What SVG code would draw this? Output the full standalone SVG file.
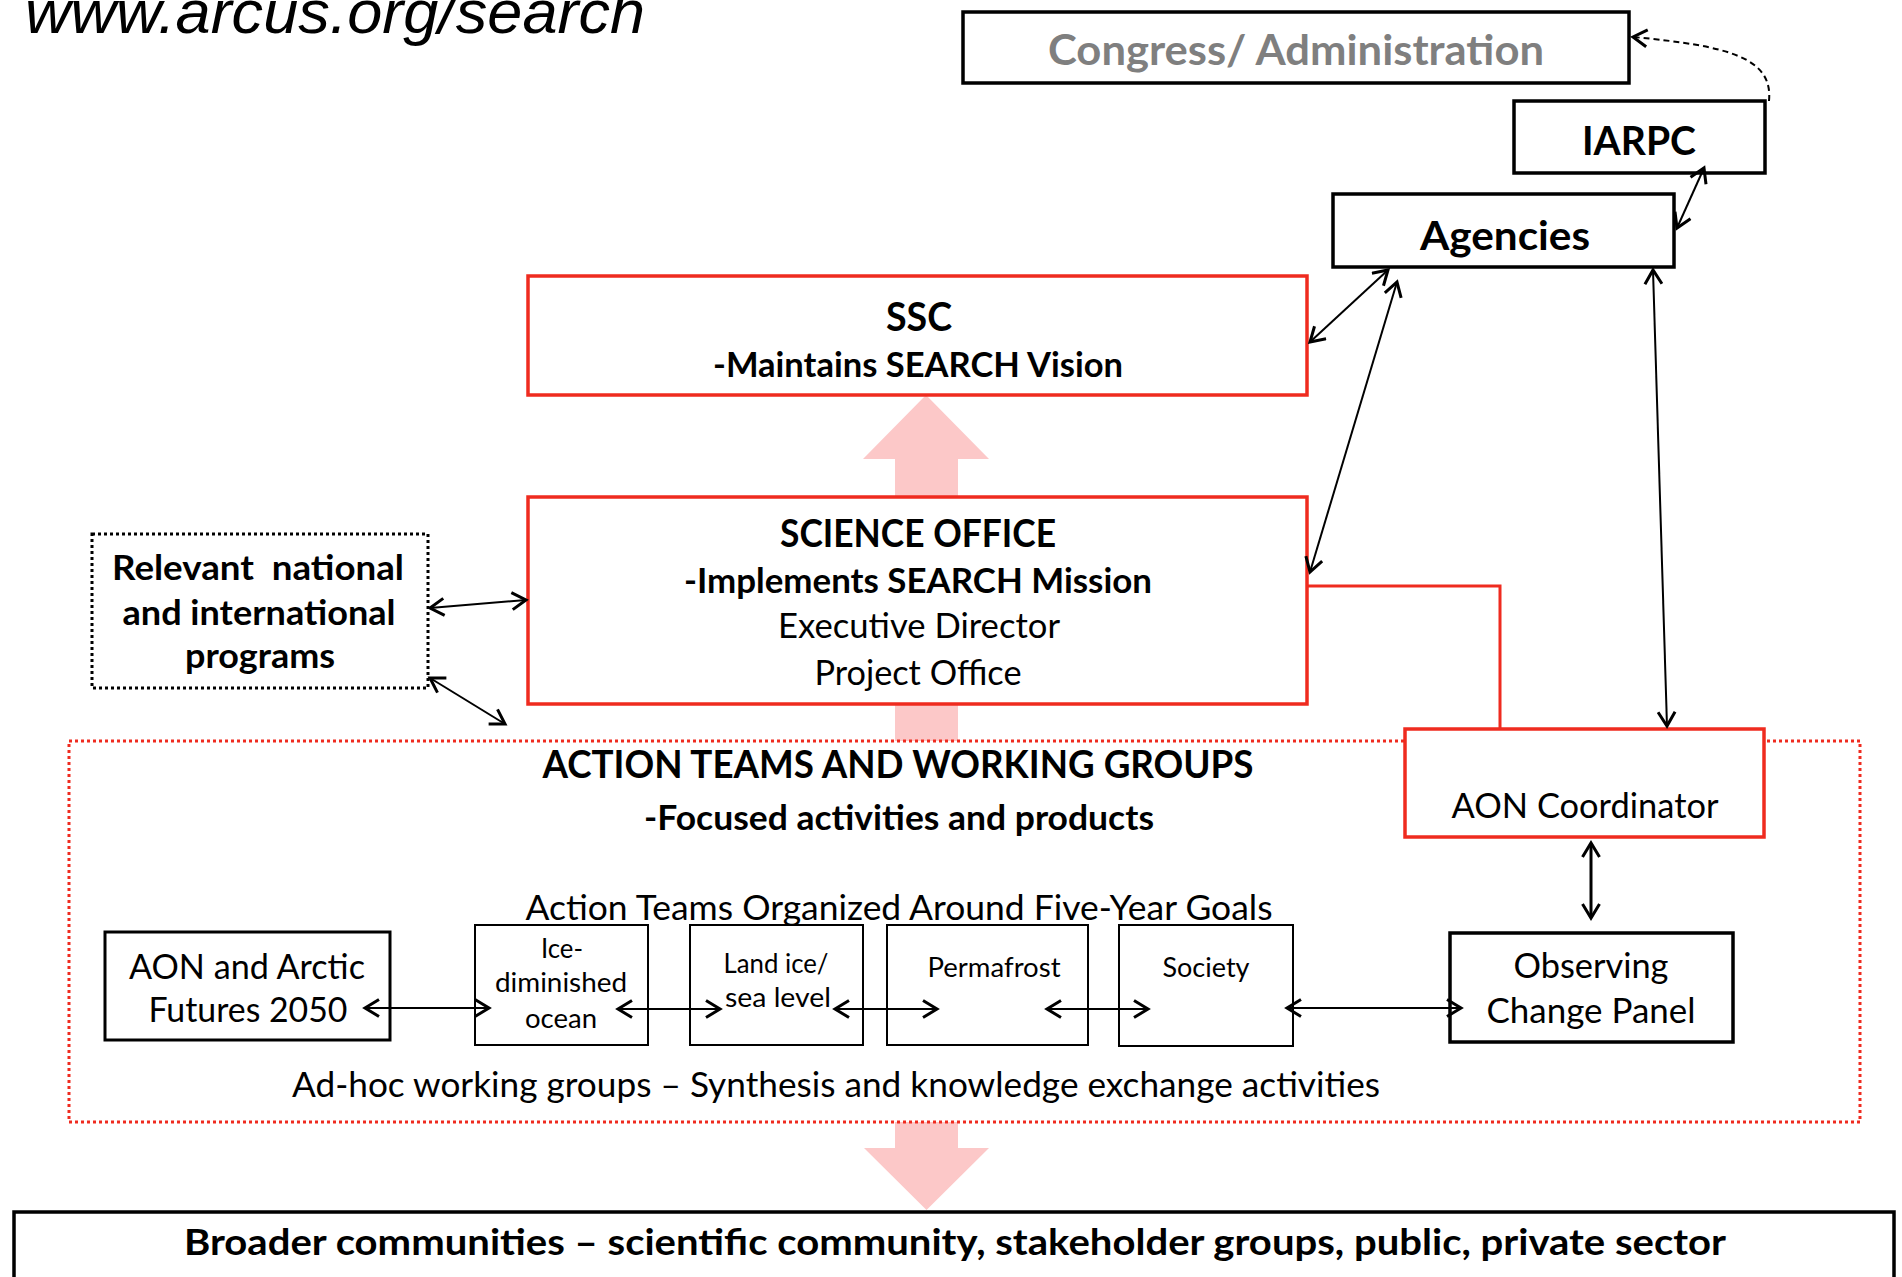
<svg xmlns="http://www.w3.org/2000/svg" width="1902" height="1277" viewBox="0 0 1902 1277">
<defs>
<style>
.t{font-family:Lato,"Open Sans","Liberation Sans",sans-serif;text-anchor:middle;fill:#000}
.b{font-weight:bold}
.box{fill:#fff;stroke:#000;stroke-width:3.5}
.thin{fill:#fff;stroke:#000;stroke-width:2}
.red{fill:#fff;stroke:#ef2b1f;stroke-width:3.5}
.con{fill:none;stroke:#000;stroke-width:2}
.pink{fill:#fcc8c8;stroke:none}
</style>
<marker id="ah" viewBox="0 0 20 20" refX="17" refY="10" markerWidth="20" markerHeight="20" markerUnits="userSpaceOnUse" orient="auto-start-reverse">
<path d="M3,1.5 L17,10 L3,18.5" fill="none" stroke="#000" stroke-width="3"/>
</marker>
</defs>
<rect width="1902" height="1277" fill="#fff"/>

<text x="25" y="33" font-family="'Liberation Sans',Arial,sans-serif" font-style="italic" font-size="62" textLength="620" lengthAdjust="spacingAndGlyphs">www.arcus.org/search</text>

<g id="pink-arrows">
<polygon class="pink" points="895,742 895,459 863,459 926,395 989,459 958,459 958,742"/>
<polygon class="pink" points="895,1122 958,1122 958,1148 989,1148 926.5,1210 864,1148 895,1148"/>
</g>

<g id="congress">
<rect class="box" x="963" y="12" width="666" height="71"/>
<text class="t b" x="1296" y="65" font-size="42" fill="#7f7f7f" style="fill:#7f7f7f" textLength="496" lengthAdjust="spacingAndGlyphs">Congress/ Administration</text>
</g>
<g id="iarpc">
<rect class="box" x="1514" y="101" width="251" height="72"/>
<text class="t b" x="1639" y="155" font-size="41" textLength="114" lengthAdjust="spacingAndGlyphs">IARPC</text>
</g>
<g id="agencies">
<rect class="box" x="1333" y="194" width="341" height="73"/>
<text class="t b" x="1505" y="250" font-size="41" textLength="170" lengthAdjust="spacingAndGlyphs">Agencies</text>
</g>
<g id="ssc">
<rect class="red" x="528" y="276" width="779" height="119"/>
<text class="t b" x="919" y="331" font-size="40" textLength="66" lengthAdjust="spacingAndGlyphs">SSC</text>
<text class="t b" x="918" y="377" font-size="34" textLength="410" lengthAdjust="spacingAndGlyphs">-Maintains SEARCH Vision</text>
</g>
<g id="science-office">
<rect class="red" x="528" y="497" width="779" height="207"/>
<text class="t b" x="918" y="547" font-size="38" textLength="276" lengthAdjust="spacingAndGlyphs">SCIENCE OFFICE</text>
<text class="t b" x="918" y="593" font-size="34" textLength="468" lengthAdjust="spacingAndGlyphs">-Implements SEARCH Mission</text>
<text class="t" x="919" y="638" font-size="34" textLength="282" lengthAdjust="spacingAndGlyphs">Executive Director</text>
<text class="t" x="918" y="685" font-size="34" textLength="207" lengthAdjust="spacingAndGlyphs">Project Office</text>
</g>
<g id="relevant-programs">
<rect x="92" y="534" width="336" height="154" fill="#fff" stroke="#000" stroke-width="3" stroke-dasharray="3 3"/>
<text class="t b" x="258" y="580" font-size="35" textLength="292" lengthAdjust="spacingAndGlyphs" xml:space="preserve">Relevant  national</text>
<text class="t b" x="259" y="625" font-size="34" textLength="273" lengthAdjust="spacingAndGlyphs">and international</text>
<text class="t b" x="260" y="668" font-size="34" textLength="150" lengthAdjust="spacingAndGlyphs">programs</text>
</g>
<g id="action-teams">
<rect x="69" y="741" width="1791" height="381" fill="#fff" stroke="#ef2b1f" stroke-width="3" stroke-dasharray="3 3"/>
<text class="t b" x="898" y="778" font-size="38" textLength="711" lengthAdjust="spacingAndGlyphs">ACTION TEAMS AND WORKING GROUPS</text>
<text class="t b" x="899" y="830" font-size="34" textLength="510" lengthAdjust="spacingAndGlyphs">-Focused activities and products</text>
<text class="t" x="899" y="920" font-size="34" textLength="747" lengthAdjust="spacingAndGlyphs">Action Teams Organized Around Five-Year Goals</text>
<text class="t" x="836" y="1097" font-size="34" textLength="1088" lengthAdjust="spacingAndGlyphs">Ad-hoc working groups – Synthesis and knowledge exchange activities</text>
</g>
<g id="aon-coordinator">
<rect class="red" x="1405" y="729" width="359" height="108"/>
<text class="t" x="1585" y="818" font-size="34" textLength="267" lengthAdjust="spacingAndGlyphs">AON Coordinator</text>
</g>
<g id="aon-arctic">
<rect class="box" x="105" y="932" width="285" height="108" style="stroke-width:3"/>
<text class="t" x="247" y="979" font-size="34" textLength="236" lengthAdjust="spacingAndGlyphs">AON and Arctic</text>
<text class="t" x="248" y="1022" font-size="34" textLength="199" lengthAdjust="spacingAndGlyphs">Futures 2050</text>
</g>
<g id="ice-diminished">
<rect class="thin" x="475" y="925" width="173" height="120"/>
<text class="t" x="562" y="958" font-size="26" textLength="42" lengthAdjust="spacingAndGlyphs">Ice-</text>
<text class="t" x="561" y="992" font-size="26" textLength="132" lengthAdjust="spacingAndGlyphs">diminished</text>
<text class="t" x="561" y="1028" font-size="26" textLength="72" lengthAdjust="spacingAndGlyphs">ocean</text>
</g>
<g id="land-ice">
<rect class="thin" x="690" y="925" width="173" height="120"/>
<text class="t" x="776" y="973" font-size="26" textLength="105" lengthAdjust="spacingAndGlyphs">Land ice/</text>
<text class="t" x="778" y="1007" font-size="26" textLength="106" lengthAdjust="spacingAndGlyphs">sea level</text>
</g>
<g id="permafrost">
<rect class="thin" x="887" y="925" width="201" height="120"/>
<text class="t" x="994" y="977" font-size="26" textLength="133" lengthAdjust="spacingAndGlyphs">Permafrost</text>
</g>
<g id="society">
<rect class="thin" x="1119" y="925" width="174" height="121"/>
<text class="t" x="1206" y="977" font-size="26" textLength="87" lengthAdjust="spacingAndGlyphs">Society</text>
</g>
<g id="observing-panel">
<rect class="box" x="1450" y="933" width="283" height="109"/>
<text class="t" x="1591" y="978" font-size="34" textLength="155" lengthAdjust="spacingAndGlyphs">Observing</text>
<text class="t" x="1591" y="1023" font-size="34" textLength="209" lengthAdjust="spacingAndGlyphs">Change Panel</text>
</g>
<g id="broader-communities">
<rect class="box" x="14" y="1212" width="1880" height="90"/>
<text class="t b" x="955" y="1255" font-size="36" textLength="1542" lengthAdjust="spacingAndGlyphs">Broader communities – scientific community, stakeholder groups, public, private sector</text>
</g>

<g id="connectors">
<path d="M1769,101 C1773,58 1730,46 1633,37" class="con" stroke-width="1.8" stroke-dasharray="6 4" marker-end="url(#ah)"/>
<line class="con" x1="1677" y1="228" x2="1704" y2="168" marker-start="url(#ah)" marker-end="url(#ah)"/>
<line class="con" x1="1388" y1="270" x2="1310" y2="342" marker-start="url(#ah)" marker-end="url(#ah)"/>
<line class="con" x1="1397" y1="282" x2="1310" y2="572" marker-start="url(#ah)" marker-end="url(#ah)"/>
<line class="con" x1="1653" y1="270" x2="1667" y2="726" marker-start="url(#ah)" marker-end="url(#ah)"/>
<line class="con" x1="1591" y1="843" x2="1591" y2="918" marker-start="url(#ah)" marker-end="url(#ah)" style="stroke-width:3"/>
<line class="con" x1="430" y1="608" x2="526" y2="600" marker-start="url(#ah)" marker-end="url(#ah)"/>
<line class="con" x1="430" y1="678" x2="505" y2="724" marker-start="url(#ah)" marker-end="url(#ah)"/>
<line class="con" x1="365" y1="1008" x2="489" y2="1008" marker-start="url(#ah)" marker-end="url(#ah)"/>
<line class="con" x1="618" y1="1009" x2="720" y2="1009" marker-start="url(#ah)" marker-end="url(#ah)"/>
<line class="con" x1="835" y1="1009" x2="937" y2="1009" marker-start="url(#ah)" marker-end="url(#ah)"/>
<line class="con" x1="1047" y1="1009" x2="1148" y2="1009" marker-start="url(#ah)" marker-end="url(#ah)"/>
<line class="con" x1="1287" y1="1008" x2="1461" y2="1008" marker-start="url(#ah)" marker-end="url(#ah)"/>
<path d="M1308,586 H1500 V728" fill="none" stroke="#ef2b1f" stroke-width="3"/>
</g>
</svg>
